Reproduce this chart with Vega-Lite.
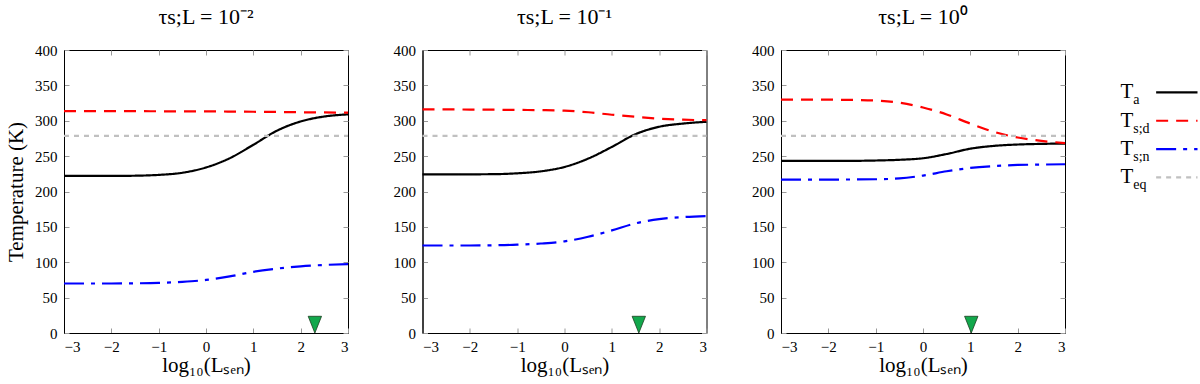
{
  "$schema": "https://vega.github.io/schema/vega-lite/v6.json",
  "background": "white",
  "padding": 5,
  "config": {
    "font": "Liberation Serif",
    "view": {"stroke": "#000", "strokeWidth": 1},
    "axis": {"grid": false, "domainColor": "#000", "tickColor": "#999", "tickSize": -5, "labelFont": "Liberation Serif", "labelFontSize": 15, "labelColor": "#000", "labelPadding": 11, "titleFont": "Liberation Serif", "titleFontWeight": "normal", "titleColor": "#000", "titleFontSize": 21},
    "title": {"font": "Liberation Serif", "fontSize": 22, "fontWeight": "normal", "color": "#000", "offset": 14, "anchor": "middle", "frame": "group"}
  },
  "datasets": {
    "curves": [
      {"panel": "p1", "series": "Ta", "x": -3, "T": 222}, {"panel": "p1", "series": "Ta", "x": -2.5, "T": 222}, {"panel": "p1", "series": "Ta", "x": -2, "T": 222}, {"panel": "p1", "series": "Ta", "x": -1.5, "T": 222.3}, {"panel": "p1", "series": "Ta", "x": -1, "T": 223.5}, {"panel": "p1", "series": "Ta", "x": -0.5, "T": 226.5}, {"panel": "p1", "series": "Ta", "x": 0, "T": 234}, {"panel": "p1", "series": "Ta", "x": 0.5, "T": 247}, {"panel": "p1", "series": "Ta", "x": 1, "T": 266}, {"panel": "p1", "series": "Ta", "x": 1.5, "T": 286}, {"panel": "p1", "series": "Ta", "x": 2, "T": 299}, {"panel": "p1", "series": "Ta", "x": 2.5, "T": 306}, {"panel": "p1", "series": "Ta", "x": 3, "T": 309},
      {"panel": "p1", "series": "Tsd", "x": -3, "T": 313.5}, {"panel": "p1", "series": "Tsd", "x": -2.5, "T": 313.5}, {"panel": "p1", "series": "Tsd", "x": -2, "T": 313.5}, {"panel": "p1", "series": "Tsd", "x": -1.5, "T": 313.5}, {"panel": "p1", "series": "Tsd", "x": -1, "T": 313.4}, {"panel": "p1", "series": "Tsd", "x": -0.5, "T": 313.3}, {"panel": "p1", "series": "Tsd", "x": 0, "T": 313.2}, {"panel": "p1", "series": "Tsd", "x": 0.5, "T": 313}, {"panel": "p1", "series": "Tsd", "x": 1, "T": 312.7}, {"panel": "p1", "series": "Tsd", "x": 1.5, "T": 312.4}, {"panel": "p1", "series": "Tsd", "x": 2, "T": 312}, {"panel": "p1", "series": "Tsd", "x": 2.5, "T": 311.7}, {"panel": "p1", "series": "Tsd", "x": 3, "T": 311.5},
      {"panel": "p1", "series": "Tsn", "x": -3, "T": 70}, {"panel": "p1", "series": "Tsn", "x": -2.5, "T": 70}, {"panel": "p1", "series": "Tsn", "x": -2, "T": 70}, {"panel": "p1", "series": "Tsn", "x": -1.5, "T": 70.2}, {"panel": "p1", "series": "Tsn", "x": -1, "T": 70.8}, {"panel": "p1", "series": "Tsn", "x": -0.5, "T": 72.3}, {"panel": "p1", "series": "Tsn", "x": 0, "T": 75}, {"panel": "p1", "series": "Tsn", "x": 0.5, "T": 80}, {"panel": "p1", "series": "Tsn", "x": 1, "T": 86.5}, {"panel": "p1", "series": "Tsn", "x": 1.5, "T": 91}, {"panel": "p1", "series": "Tsn", "x": 2, "T": 94.3}, {"panel": "p1", "series": "Tsn", "x": 2.5, "T": 96.2}, {"panel": "p1", "series": "Tsn", "x": 3, "T": 97.3},
      {"panel": "p1", "series": "Teq", "x": -3, "T": 278.5}, {"panel": "p1", "series": "Teq", "x": 3, "T": 278.5},
      {"panel": "p2", "series": "Ta", "x": -3, "T": 224.3}, {"panel": "p2", "series": "Ta", "x": -2.5, "T": 224.3}, {"panel": "p2", "series": "Ta", "x": -2, "T": 224.3}, {"panel": "p2", "series": "Ta", "x": -1.5, "T": 224.5}, {"panel": "p2", "series": "Ta", "x": -1, "T": 225.7}, {"panel": "p2", "series": "Ta", "x": -0.5, "T": 228.5}, {"panel": "p2", "series": "Ta", "x": 0, "T": 234.7}, {"panel": "p2", "series": "Ta", "x": 0.5, "T": 246.5}, {"panel": "p2", "series": "Ta", "x": 1, "T": 263}, {"panel": "p2", "series": "Ta", "x": 1.5, "T": 281}, {"panel": "p2", "series": "Ta", "x": 2, "T": 291.5}, {"panel": "p2", "series": "Ta", "x": 2.5, "T": 296}, {"panel": "p2", "series": "Ta", "x": 3, "T": 298.5},
      {"panel": "p2", "series": "Tsd", "x": -3, "T": 316}, {"panel": "p2", "series": "Tsd", "x": -2.5, "T": 316}, {"panel": "p2", "series": "Tsd", "x": -2, "T": 315.8}, {"panel": "p2", "series": "Tsd", "x": -1.5, "T": 315.6}, {"panel": "p2", "series": "Tsd", "x": -1, "T": 315.3}, {"panel": "p2", "series": "Tsd", "x": -0.5, "T": 315}, {"panel": "p2", "series": "Tsd", "x": 0, "T": 314.3}, {"panel": "p2", "series": "Tsd", "x": 0.5, "T": 312}, {"panel": "p2", "series": "Tsd", "x": 1, "T": 308.5}, {"panel": "p2", "series": "Tsd", "x": 1.5, "T": 305.6}, {"panel": "p2", "series": "Tsd", "x": 2, "T": 303}, {"panel": "p2", "series": "Tsd", "x": 2.5, "T": 301.5}, {"panel": "p2", "series": "Tsd", "x": 3, "T": 300.8},
      {"panel": "p2", "series": "Tsn", "x": -3, "T": 123.7}, {"panel": "p2", "series": "Tsn", "x": -2.5, "T": 123.7}, {"panel": "p2", "series": "Tsn", "x": -2, "T": 123.7}, {"panel": "p2", "series": "Tsn", "x": -1.5, "T": 124}, {"panel": "p2", "series": "Tsn", "x": -1, "T": 124.8}, {"panel": "p2", "series": "Tsn", "x": -0.5, "T": 126.5}, {"panel": "p2", "series": "Tsn", "x": 0, "T": 129.5}, {"panel": "p2", "series": "Tsn", "x": 0.5, "T": 136}, {"panel": "p2", "series": "Tsn", "x": 1, "T": 145}, {"panel": "p2", "series": "Tsn", "x": 1.5, "T": 155}, {"panel": "p2", "series": "Tsn", "x": 2, "T": 161}, {"panel": "p2", "series": "Tsn", "x": 2.5, "T": 163.8}, {"panel": "p2", "series": "Tsn", "x": 3, "T": 165.3},
      {"panel": "p2", "series": "Teq", "x": -3, "T": 278.6}, {"panel": "p2", "series": "Teq", "x": 3, "T": 278.6},
      {"panel": "p3", "series": "Ta", "x": -3, "T": 243.2}, {"panel": "p3", "series": "Ta", "x": -2.5, "T": 243.2}, {"panel": "p3", "series": "Ta", "x": -2, "T": 243.2}, {"panel": "p3", "series": "Ta", "x": -1.5, "T": 243.3}, {"panel": "p3", "series": "Ta", "x": -1, "T": 243.8}, {"panel": "p3", "series": "Ta", "x": -0.5, "T": 244.8}, {"panel": "p3", "series": "Ta", "x": 0, "T": 247}, {"panel": "p3", "series": "Ta", "x": 0.5, "T": 253}, {"panel": "p3", "series": "Ta", "x": 1, "T": 260.5}, {"panel": "p3", "series": "Ta", "x": 1.5, "T": 264.5}, {"panel": "p3", "series": "Ta", "x": 2, "T": 266.4}, {"panel": "p3", "series": "Ta", "x": 2.5, "T": 267.3}, {"panel": "p3", "series": "Ta", "x": 3, "T": 267.8},
      {"panel": "p3", "series": "Tsd", "x": -3, "T": 330}, {"panel": "p3", "series": "Tsd", "x": -2.5, "T": 330}, {"panel": "p3", "series": "Tsd", "x": -2, "T": 329.8}, {"panel": "p3", "series": "Tsd", "x": -1.5, "T": 329.4}, {"panel": "p3", "series": "Tsd", "x": -1, "T": 328.5}, {"panel": "p3", "series": "Tsd", "x": -0.5, "T": 325.5}, {"panel": "p3", "series": "Tsd", "x": 0, "T": 318.8}, {"panel": "p3", "series": "Tsd", "x": 0.5, "T": 308.9}, {"panel": "p3", "series": "Tsd", "x": 1, "T": 296}, {"panel": "p3", "series": "Tsd", "x": 1.5, "T": 284.3}, {"panel": "p3", "series": "Tsd", "x": 2, "T": 276.3}, {"panel": "p3", "series": "Tsd", "x": 2.5, "T": 271.5}, {"panel": "p3", "series": "Tsd", "x": 3, "T": 268.5},
      {"panel": "p3", "series": "Tsn", "x": -3, "T": 216.8}, {"panel": "p3", "series": "Tsn", "x": -2.5, "T": 216.8}, {"panel": "p3", "series": "Tsn", "x": -2, "T": 216.8}, {"panel": "p3", "series": "Tsn", "x": -1.5, "T": 217}, {"panel": "p3", "series": "Tsn", "x": -1, "T": 217.3}, {"panel": "p3", "series": "Tsn", "x": -0.5, "T": 218.5}, {"panel": "p3", "series": "Tsn", "x": 0, "T": 222.5}, {"panel": "p3", "series": "Tsn", "x": 0.5, "T": 228.6}, {"panel": "p3", "series": "Tsn", "x": 1, "T": 233.3}, {"panel": "p3", "series": "Tsn", "x": 1.5, "T": 236}, {"panel": "p3", "series": "Tsn", "x": 2, "T": 237.5}, {"panel": "p3", "series": "Tsn", "x": 2.5, "T": 238.1}, {"panel": "p3", "series": "Tsn", "x": 3, "T": 238.5},
      {"panel": "p3", "series": "Teq", "x": -3, "T": 278.6}, {"panel": "p3", "series": "Teq", "x": 3, "T": 278.6}
    ],
    "markers": [
      {"panel": "p1", "x": 2.3, "T": 11.8},
      {"panel": "p2", "x": 1.57, "T": 11.8},
      {"panel": "p3", "x": 1.02, "T": 11.8}
    ],
    "legend": [
      {"series": "Ta", "main": "T", "sub": "a"},
      {"series": "Tsd", "main": "T", "sub": "s;d"},
      {"series": "Tsn", "main": "T", "sub": "s;n"},
      {"series": "Teq", "main": "T", "sub": "eq"}
    ]
  },
  "hconcat": [
    {
      "width": 284, "height": 283,
      "title": {"text": "τs;L = 10⁻²"},
      "layer": [
        {
          "data": {"name": "curves"},
          "transform": [{"filter": "datum.panel === 'p1'"}],
          "mark": {"type": "line", "interpolate": "monotone", "strokeWidth": 2.2},
          "encoding": {
            "x": {"field": "x", "type": "quantitative", "scale": {"domain": [-3, 3], "nice": false}, "axis": {"orient": "bottom", "values": [-3, -2, -1, 0, 1, 2, 3], "title": "log₁₀(Lₛₑₙ)", "titleFontSize": 21, "titlePadding": 0, "labelFontSize": 15, "labelFont": "Liberation Serif", "tickSize": -5, "labelPadding": 11}},
            "y": {"field": "T", "type": "quantitative", "scale": {"domain": [0, 400], "nice": false}, "axis": {"orient": "left", "values": [0, 50, 100, 150, 200, 250, 300, 350, 400], "title": "Temperature (K)", "titleFontSize": 21, "titlePadding": 8, "labelFontSize": 15, "labelFont": "Liberation Serif", "tickSize": -5, "labelPadding": 12}},
            "color": {"field": "series", "type": "nominal", "scale": {"domain": ["Ta", "Tsd", "Tsn", "Teq"], "range": ["#000000", "#ff0000", "#0000ff", "#c0c0c0"]}, "legend": null},
            "strokeDash": {"field": "series", "type": "nominal", "scale": {"domain": ["Ta", "Tsd", "Tsn", "Teq"], "range": [[1, 0], [12, 8], [20, 7, 4, 7], [5, 5]]}, "legend": null},
            "detail": {"field": "series"}
          }
        },
        {
          "data": {"name": "markers"},
          "transform": [{"filter": "datum.panel === 'p1'"}],
          "mark": {"type": "point", "shape": "M-0.8,-1L0.8,-1L0,1Z", "size": 280, "filled": true, "fill": "#12a84c", "stroke": "#1b3d1f", "strokeWidth": 0.8, "opacity": 1},
          "encoding": {
            "x": {"field": "x", "type": "quantitative", "axis": null},
            "y": {"field": "T", "type": "quantitative", "axis": null}
          }
        },
        {
          "data": {"name": "markers"},
          "transform": [{"filter": "datum.panel === 'p1'"}],
          "mark": {"type": "point", "opacity": 0},
          "encoding": {
            "x": {"field": "x", "type": "quantitative", "axis": {"orient": "top", "values": [-3, -2, -1, 0, 1, 2, 3], "labels": false, "title": null, "domain": false, "tickSize": -5}},
            "y": {"field": "T", "type": "quantitative", "axis": {"orient": "right", "values": [0, 50, 100, 150, 200, 250, 300, 350, 400], "labels": false, "title": null, "domain": false, "tickSize": -5}}
          }
        }
      ],
      "resolve": {"axis": {"x": "independent", "y": "independent"}}
    },
    {
      "width": 284, "height": 283,
      "title": {"text": "τs;L = 10⁻¹"},
      "layer": [
        {
          "data": {"name": "curves"},
          "transform": [{"filter": "datum.panel === 'p2'"}],
          "mark": {"type": "line", "interpolate": "monotone", "strokeWidth": 2.2},
          "encoding": {
            "x": {"field": "x", "type": "quantitative", "scale": {"domain": [-3, 3], "nice": false}, "axis": {"orient": "bottom", "values": [-3, -2, -1, 0, 1, 2, 3], "title": "log₁₀(Lₛₑₙ)", "titleFontSize": 21, "titlePadding": 0, "labelFontSize": 15, "labelFont": "Liberation Serif", "tickSize": -5, "labelPadding": 11}},
            "y": {"field": "T", "type": "quantitative", "scale": {"domain": [0, 400], "nice": false}, "axis": {"orient": "left", "values": [0, 50, 100, 150, 200, 250, 300, 350, 400], "title": null, "labelFontSize": 15, "labelFont": "Liberation Serif", "tickSize": -5, "labelPadding": 12}},
            "color": {"field": "series", "type": "nominal", "scale": {"domain": ["Ta", "Tsd", "Tsn", "Teq"], "range": ["#000000", "#ff0000", "#0000ff", "#c0c0c0"]}, "legend": null},
            "strokeDash": {"field": "series", "type": "nominal", "scale": {"domain": ["Ta", "Tsd", "Tsn", "Teq"], "range": [[1, 0], [12, 8], [20, 7, 4, 7], [5, 5]]}, "legend": null},
            "detail": {"field": "series"}
          }
        },
        {
          "data": {"name": "markers"},
          "transform": [{"filter": "datum.panel === 'p2'"}],
          "mark": {"type": "point", "shape": "M-0.8,-1L0.8,-1L0,1Z", "size": 280, "filled": true, "fill": "#12a84c", "stroke": "#1b3d1f", "strokeWidth": 0.8, "opacity": 1},
          "encoding": {
            "x": {"field": "x", "type": "quantitative", "axis": null},
            "y": {"field": "T", "type": "quantitative", "axis": null}
          }
        },
        {
          "data": {"name": "markers"},
          "transform": [{"filter": "datum.panel === 'p2'"}],
          "mark": {"type": "point", "opacity": 0},
          "encoding": {
            "x": {"field": "x", "type": "quantitative", "axis": {"orient": "top", "values": [-3, -2, -1, 0, 1, 2, 3], "labels": false, "title": null, "domain": false, "tickSize": -5}},
            "y": {"field": "T", "type": "quantitative", "axis": {"orient": "right", "values": [0, 50, 100, 150, 200, 250, 300, 350, 400], "labels": false, "title": null, "domain": false, "tickSize": -5}}
          }
        }
      ],
      "resolve": {"axis": {"x": "independent", "y": "independent"}}
    },
    {
      "width": 284, "height": 283,
      "title": {"text": "τs;L = 10⁰"},
      "layer": [
        {
          "data": {"name": "curves"},
          "transform": [{"filter": "datum.panel === 'p3'"}],
          "mark": {"type": "line", "interpolate": "monotone", "strokeWidth": 2.2},
          "encoding": {
            "x": {"field": "x", "type": "quantitative", "scale": {"domain": [-3, 3], "nice": false}, "axis": {"orient": "bottom", "values": [-3, -2, -1, 0, 1, 2, 3], "title": "log₁₀(Lₛₑₙ)", "titleFontSize": 21, "titlePadding": 0, "labelFontSize": 15, "labelFont": "Liberation Serif", "tickSize": -5, "labelPadding": 11}},
            "y": {"field": "T", "type": "quantitative", "scale": {"domain": [0, 400], "nice": false}, "axis": {"orient": "left", "values": [0, 50, 100, 150, 200, 250, 300, 350, 400], "title": null, "labelFontSize": 15, "labelFont": "Liberation Serif", "tickSize": -5, "labelPadding": 12}},
            "color": {"field": "series", "type": "nominal", "scale": {"domain": ["Ta", "Tsd", "Tsn", "Teq"], "range": ["#000000", "#ff0000", "#0000ff", "#c0c0c0"]}, "legend": null},
            "strokeDash": {"field": "series", "type": "nominal", "scale": {"domain": ["Ta", "Tsd", "Tsn", "Teq"], "range": [[1, 0], [12, 8], [20, 7, 4, 7], [5, 5]]}, "legend": null},
            "detail": {"field": "series"}
          }
        },
        {
          "data": {"name": "markers"},
          "transform": [{"filter": "datum.panel === 'p3'"}],
          "mark": {"type": "point", "shape": "M-0.8,-1L0.8,-1L0,1Z", "size": 280, "filled": true, "fill": "#12a84c", "stroke": "#1b3d1f", "strokeWidth": 0.8, "opacity": 1},
          "encoding": {
            "x": {"field": "x", "type": "quantitative", "axis": null},
            "y": {"field": "T", "type": "quantitative", "axis": null}
          }
        },
        {
          "data": {"name": "markers"},
          "transform": [{"filter": "datum.panel === 'p3'"}],
          "mark": {"type": "point", "opacity": 0},
          "encoding": {
            "x": {"field": "x", "type": "quantitative", "axis": {"orient": "top", "values": [-3, -2, -1, 0, 1, 2, 3], "labels": false, "title": null, "domain": false, "tickSize": -5}},
            "y": {"field": "T", "type": "quantitative", "axis": {"orient": "right", "values": [0, 50, 100, 150, 200, 250, 300, 350, 400], "labels": false, "title": null, "domain": false, "tickSize": -5}}
          }
        }
      ],
      "resolve": {"axis": {"x": "independent", "y": "independent"}}
    },
    {
      "width": 88, "height": 283,
      "view": {"stroke": null},
      "data": {"name": "legend"},
      "layer": [
        {
          "mark": {"type": "rule", "strokeWidth": 2.2},
          "encoding": {
            "x": {"datum": 0.53, "type": "quantitative", "scale": {"domain": [0, 1]}, "axis": null},
            "x2": {"datum": 1},
            "y": {"field": "series", "type": "nominal", "scale": {"type": "point", "domain": ["_0", "Ta", "Tsd", "Tsn", "Teq", "_5", "_6", "_7", "_8", "_9"], "padding": 0.5}, "axis": null},
            "color": {"field": "series", "type": "nominal", "scale": {"domain": ["Ta", "Tsd", "Tsn", "Teq"], "range": ["#000000", "#ff0000", "#0000ff", "#c0c0c0"]}, "legend": null},
            "strokeDash": {"field": "series", "type": "nominal", "scale": {"domain": ["Ta", "Tsd", "Tsn", "Teq"], "range": [[1, 0], [12, 8], [20, 7, 4, 7], [5, 5]]}, "legend": null}
          }
        },
        {
          "mark": {"type": "text", "align": "right", "baseline": "alphabetic", "dy": 6, "fontSize": 21, "font": "Liberation Serif", "color": "#000"},
          "encoding": {
            "x": {"datum": 0.27, "type": "quantitative"},
            "y": {"field": "series", "type": "nominal"},
            "text": {"field": "main"}
          }
        },
        {
          "mark": {"type": "text", "align": "left", "baseline": "alphabetic", "dy": 12, "fontSize": 14, "font": "Liberation Serif", "color": "#000"},
          "encoding": {
            "x": {"datum": 0.27, "type": "quantitative"},
            "y": {"field": "series", "type": "nominal"},
            "text": {"field": "sub"}
          }
        }
      ]
    }
  ],
  "spacing": 39.5,
  "resolve": {"scale": {"x": "independent", "y": "independent"}}
}
